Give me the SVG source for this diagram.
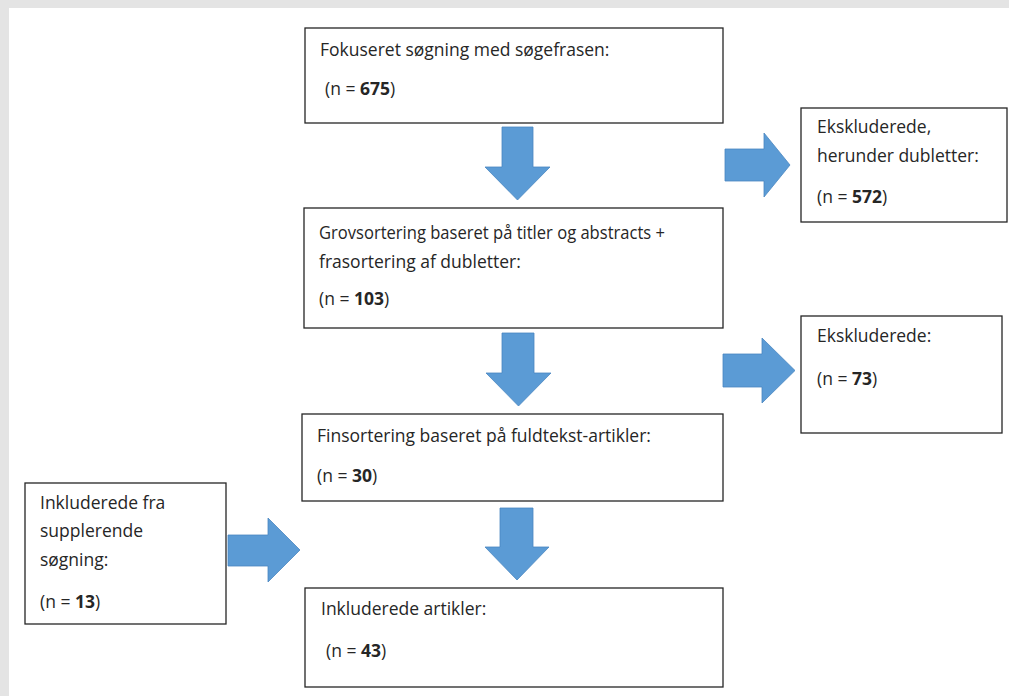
<svg xmlns="http://www.w3.org/2000/svg" width="1009" height="696" viewBox="0 0 1009 696">
<style>
.box{fill:#fff;stroke:#262626;stroke-width:1.3}
.t{font-family:"Open Sans","Noto Sans","Liberation Sans",sans-serif;font-size:17.5px;fill:#262626}
.b{font-weight:bold}
.arr{fill:#5b9bd5;stroke:#4a86c0;stroke-width:0.8}
</style>
<rect x="0" y="0" width="1009" height="696" fill="#fff"/>
<rect x="0" y="0" width="1009" height="8" fill="#e4e4e4"/>
<rect x="0" y="0" width="9" height="696" fill="#e4e4e4"/>

<g id="n1">
<rect class="box" x="305" y="28" width="418" height="95"/>
<text class="t" x="320" y="56">Fokuseret søgning med søgefrasen:</text>
<text class="t" x="325" y="95">(n = <tspan class="b">675</tspan>)</text>
</g>
<g id="n2">
<rect class="box" x="801" y="108" width="206" height="114"/>
<text class="t" x="817" y="133">Ekskluderede,</text>
<text class="t" x="817" y="162">herunder dubletter:</text>
<text class="t" x="817" y="203">(n = <tspan class="b">572</tspan>)</text>
</g>
<g id="n3">
<rect class="box" x="304" y="208" width="419" height="120"/>
<text class="t" x="319" y="239" textLength="346" lengthAdjust="spacingAndGlyphs">Grovsortering baseret på titler og abstracts +</text>
<text class="t" x="319" y="268">frasortering af dubletter:</text>
<text class="t" x="319" y="305">(n = <tspan class="b">103</tspan>)</text>
</g>
<g id="n4">
<rect class="box" x="801" y="316" width="201" height="117"/>
<text class="t" x="817" y="342">Ekskluderede:</text>
<text class="t" x="817" y="385">(n = <tspan class="b">73</tspan>)</text>
</g>
<g id="n5">
<rect class="box" x="302" y="414" width="421" height="87"/>
<text class="t" x="317" y="442">Finsortering baseret på fuldtekst-artikler:</text>
<text class="t" x="317" y="482">(n = <tspan class="b">30</tspan>)</text>
</g>
<g id="n6">
<rect class="box" x="25" y="483" width="201" height="141"/>
<text class="t" x="40" y="509">Inkluderede fra</text>
<text class="t" x="40" y="537">supplerende</text>
<text class="t" x="40" y="566">søgning:</text>
<text class="t" x="40" y="608">(n = <tspan class="b">13</tspan>)</text>
</g>
<g id="n7">
<rect class="box" x="305" y="588" width="418" height="99"/>
<text class="t" x="321" y="615">Inkluderede artikler:</text>
<text class="t" x="326" y="657">(n = <tspan class="b">43</tspan>)</text>
</g>

<g id="connectors">
<polygon class="arr" points="502,127 533,127 533,167 550,167 517.5,200 485,167 502,167"/>
<polygon class="arr" points="502,333 534,333 534,373 551,373 518.5,406 486,373 502,373"/>
<polygon class="arr" points="500,508 533,508 533,547 549,547 517,580 485,547 500,547"/>
<polygon class="arr" points="725,149 764,149 764,133 790,165 764,197 764,181 725,181"/>
<polygon class="arr" points="723,354 762,354 762,338 795,370.5 762,403 762,387 723,387"/>
<polygon class="arr" points="228,535 268,535 268,518 300,550 268,582 268,566 228,566"/>
</g>
</svg>
